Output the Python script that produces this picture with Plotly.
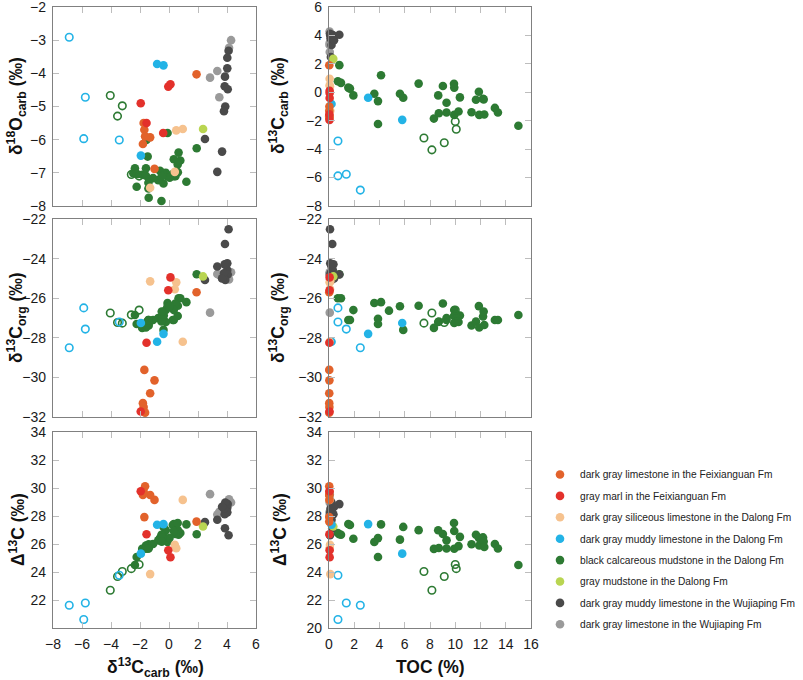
import numpy as np
import plotly.graph_objects as go
from plotly.subplots import make_subplots

# ---------------- data ----------------
# dark gray limestone in the Feixianguan Fm
fxl_carb = [1.9, -1.7, -1.0, -1.3, -1.8, -1.75, -1.65]
fxl_o18 = [-4.03, -5.7, -6.88, -5.93, -6.13, -5.5, -5.9]
fxl_org = [-25.7, -29.62, -30.15, -30.8, -31.3, -31.5, -31.78]
fxl_toc = [0.02, 0.02, 0.03, 0.02, 0.02, 0.03, 0.02]

# gray marl in the Feixianguan Fm
fxm_carb = [0.1, -0.05, -1.55, -1.95, -0.4]
fxm_o18 = [-4.33, -4.4, -5.5, -4.9, -5.8]
fxm_org = [-24.95, -25.6, -28.25, -31.72, None]
fxm_toc = [0.05, 0.05, 0.03, 0.04, 0.05]

# dark gray siliceous limestone in the Dalong Fm
dls_carb = [-1.3, 0.5, 0.95, 0.4]
dls_o18 = [-7.45, -5.72, -5.68, -6.97]
dls_org = [-25.15, -25.2, -28.2, -25.55]
dls_toc = [0.1, 0.05, 0.05, 0.08]

# dark gray muddy limestone in the Dalong Fm (filled)
dlm_carb = [-1.94, -0.82, -0.38]
dlm_o18 = [-6.48, -3.72, -3.76]
dlm_org = [-27.25, -28.2, -27.8]
dlm_toc = [5.8, 0.2, 3.1]

# dark gray muddy limestone in the Dalong Fm (open symbols)
dlmo_carb = [-6.88, -5.77, -5.88, -3.43]
dlmo_o18 = [-2.91, -4.72, -5.97, -6.01]
dlmo_org = [-28.5, -27.56, -26.49, -27.2]
dlmo_toc = [2.48, 1.37, 0.71, 0.71]

# black calcareous mudstone in the Dalong Fm (filled)
bcm_toc = [0.82, 0.70, 0.95, 1.53, 1.66, 1.93, 4.12, 3.59, 3.88, 3.88, 5.62, 5.88,
           7.10, 8.31, 8.65, 8.70, 9.02, 9.31, 9.31, 9.90, 9.92, 9.92, 10.26, 10.37,
           11.29, 11.64, 11.87, 11.90, 12.20, 12.25, 12.30, 13.14, 13.38, 15.00,
           None, None, 4.75]
bcm_carb = [1.91, 0.78, 0.66, 0.33, 0.26, -0.22, 1.2, -0.1, -0.62, -2.23, -0.1, -0.38,
            0.61, -1.85, -0.22, -1.47, 0.44, -0.74, -1.42, 0.6, 0.33, -1.59, -1.35, -0.36,
            -1.4, -0.52, 0.04, -1.59, -0.45, -0.5, -1.56, -1.1, -1.42, -2.35,
            -2.46, -2.2, None]
bcm_org = [-24.79, -26.0, -26.0, -27.1, -27.1, -26.6, -26.2, -26.24, -27.04, -27.3, -26.41, -27.6,
           -26.38, -27.5, -27.2, -27.18, -26.27, -27.0, -27.1, -26.9, -26.6, -27.25, -27.2, -26.87,
           -27.38, -27.18, -26.4, -27.48, -26.92, -26.67, -27.35, -27.1, -27.1, -26.85,
           None, None, -26.63]
bcm_o18 = [-6.26, -6.63, -6.39, -6.59, -7.04, -7.06, -7.27, -5.8, -6.94, -7.42, -7.1, -7.32,
           -6.98, -7.06, -7.0, -6.51, -7.1, -7.22, -7.47, -6.75, -7.1, -7.09, -7.2, -7.04,
           -7.75, -7.85, -7.15, -6.86, -7.0, -7.1, -6.01, -7.16, -7.3, -6.86,
           -7.01, -7.04, None]

# black calcareous mudstone in the Dalong Fm (open symbols)
bcmo_toc = [7.52, 8.15, 9.13, 10.0, 10.08]
bcmo_carb = [-3.22, -4.05, -3.55, -2.06, -2.6]
bcmo_org = [-27.26, -26.75, -27.23, -26.6, -26.84]
bcmo_o18 = [-4.98, -4.67, -5.29, -7.1, -7.05]

# gray mudstone in the Dalong Fm
gmd_carb = [2.35]
gmd_o18 = [-5.68]
gmd_org = [-24.9]
gmd_toc = [0.34]

# dark gray muddy limestone in the Wujiaping Fm
wjm_carb = [4.11, 3.86, 3.33, 2.48, 4.02, 4.02, 3.84, 4.05, 3.88, 3.79, 3.66]
wjm_o18 = [-3.32, -4.1, -6.97, -5.98, -3.53, -3.85, -4.39, -4.48, -5.0, -5.14, -6.36]
wjm_org = [-22.52, -23.26, -24.4, -25.08, -24.58, -24.24, -24.29, -24.8, -25.08, -24.74, -25.0]
wjm_toc = [0.08, 0.26, 0.2, 0.15, 0.3, 0.1, 0.35, 0.82, 0.2, 0.12, 0.4]

# dark gray limestone in the Wujiaping Fm
wjl_carb = [4.28, 4.14, 3.33, 2.83, 3.47]
wjl_o18 = [-3.0, -3.23, -3.93, -4.13, -4.72]
wjl_org = [-24.69, -25.05, -24.78, -26.73, -24.83]
wjl_toc = [0.05, 0.08, 0.04, 0.06, 0.05]

# ---------------- figure ----------------
W, H = 803, 680
ML, MR, MT, MB = 53, 272, 7, 52
PW, PH = W - ML - MR, H - MT - MB


def px_x(p):
    return (p - ML) / PW


def px_y(p):
    return (H - MB - p) / PH


FONT = "Liberation Sans, Arial, Helvetica, sans-serif"

fig = make_subplots(rows=3, cols=2)

# drawing order (first = bottom); legend order is set with legendrank
groups = [
    # name, color, carb, o18, org, toc, open, legend rank
    ("dark gray limestone in the Wujiaping Fm", "#9A9A9A", wjl_carb, wjl_o18, wjl_org, wjl_toc, False, 8),
    ("black calcareous mudstone in the Dalong Fm", "#2D7A33", bcm_carb, bcm_o18, bcm_org, bcm_toc, False, 5),
    ("black calcareous mudstone in the Dalong Fm", "#2D7A33", bcmo_carb, bcmo_o18, bcmo_org, bcmo_toc, True, 5),
    ("dark gray muddy limestone in the Dalong Fm", "#23B3E6", dlmo_carb, dlmo_o18, dlmo_org, dlmo_toc, True, 4),
    ("dark gray muddy limestone in the Wujiaping Fm", "#4A4A4A", wjm_carb, wjm_o18, wjm_org, wjm_toc, False, 7),
    ("gray mudstone in the Dalong Fm", "#B9D551", gmd_carb, gmd_o18, gmd_org, gmd_toc, False, 6),
    ("dark gray muddy limestone in the Dalong Fm", "#23B3E6", dlm_carb, dlm_o18, dlm_org, dlm_toc, False, 4),
    ("dark gray siliceous limestone in the Dalong Fm", "#F6C28E", dls_carb, dls_o18, dls_org, dls_toc, False, 3),
    ("dark gray limestone in the Feixianguan Fm", "#E2622B", fxl_carb, fxl_o18, fxl_org, fxl_toc, False, 1),
    ("gray marl in the Feixianguan Fm", "#E3312B", fxm_carb, fxm_o18, fxm_org, fxm_toc, False, 2),
]

for name, color, carb, o18, org, toc, is_open, rank in groups:
    carb_a = np.array(carb, dtype=float)
    o18_a = np.array(o18, dtype=float)
    org_a = np.array(org, dtype=float)
    toc_a = np.array(toc, dtype=float)
    delta_a = carb_a - org_a
    panels = [
        (1, 1, carb_a, o18_a), (1, 2, toc_a, carb_a),
        (2, 1, carb_a, org_a), (2, 2, toc_a, org_a),
        (3, 1, carb_a, delta_a), (3, 2, toc_a, delta_a),
    ]
    for k, (r, c, xv, yv) in enumerate(panels):
        if is_open:
            marker = dict(size=7.5, color="rgba(255,255,255,0)",
                          line=dict(color=color, width=1.6), symbol="circle")
        else:
            marker = dict(size=8.6, color=color, line=dict(width=0), symbol="circle")
        fig.add_trace(go.Scatter(
            x=xv, y=yv, mode="markers", marker=marker, name=name,
            legendgroup=f"g{rank}", legendrank=rank,
            showlegend=(k == 0 and not is_open), cliponaxis=False,
            hoverinfo="skip"), row=r, col=c)

# axes
col_dom = {1: [0, px_x(256)], 2: [px_x(329), 1.0]}
row_dom = {1: [px_y(206), 1.0], 2: [px_y(417), px_y(219)], 3: [0, px_y(432)]}
xranges = {1: [-8, 6], 2: [0, 16]}
yranges = {(1, 1): [-8, -2], (1, 2): [-8, 6], (2, 1): [-32, -22], (2, 2): [-32, -22],
           (3, 1): [20, 34], (3, 2): [20, 34]}
ytickvals = {(1, 1): list(range(-8, -1)), (1, 2): list(range(-8, 7, 2)),
             (2, 1): list(range(-32, -21, 2)), (2, 2): list(range(-32, -21, 2)),
             (3, 1): list(range(22, 35, 2)), (3, 2): list(range(20, 35, 2))}
xtickvals = {1: list(range(-8, 7, 2)), 2: list(range(0, 17, 2))}

common = dict(showline=True, linecolor="#808080", linewidth=1.3, mirror="ticks",
              ticks="inside", ticklen=6, tickwidth=1, tickcolor="#BDBDBD",
              showgrid=False, zeroline=False, ticklabeloverflow="allow",
              tickfont=dict(family=FONT, size=14, color="#1a1a1a"))

for r in (1, 2, 3):
    for c in (1, 2):
        fig.update_xaxes(domain=col_dom[c], range=xranges[c], tickmode="array",
                         tickvals=xtickvals[c], showticklabels=(r == 3),
                         ticklabelstandoff=3, row=r, col=c, **common)
        fig.update_yaxes(domain=row_dom[r], range=yranges[(r, c)], tickmode="array",
                         tickvals=ytickvals[(r, c)], ticklabelstandoff=3,
                         row=r, col=c, **common)

# axis titles
tfont = dict(family=FONT, size=17.5, color="#111111")
ytitles = [
    ("δ<sup>18</sup>O<sub>carb</sub> (‰)", 16, 106),
    ("δ<sup>13</sup>C<sub>carb</sub> (‰)", 278, 106),
    ("δ<sup>13</sup>C<sub>org</sub> (‰)", 16, 318),
    ("δ<sup>13</sup>C<sub>org</sub> (‰)", 278, 318),
    ("Δ<sup>13</sup>C (‰)", 17, 530),
    ("Δ<sup>13</sup>C (‰)", 279, 530),
]
for txt, xp, yp in ytitles:
    fig.add_annotation(text=f"<b>{txt}</b>", x=px_x(xp), y=px_y(yp), xref="paper", yref="paper",
                       textangle=-90, showarrow=False, xanchor="center", yanchor="middle", font=tfont)
for txt, xp, yp in [("δ<sup>13</sup>C<sub>carb</sub> (‰)", 155, 667), ("TOC (%)", 430, 667)]:
    fig.add_annotation(text=f"<b>{txt}</b>", x=px_x(xp), y=px_y(yp), xref="paper", yref="paper",
                       showarrow=False, xanchor="center", yanchor="middle", font=tfont)

fig.update_layout(
    width=W, height=H,
    margin=dict(l=ML, r=MR, t=MT, b=MB, autoexpand=False),
    paper_bgcolor="white", plot_bgcolor="white",
    showlegend=True,
    legend=dict(xref="container", yref="container",
                x=540 / W, y=1 - 460 / H, xanchor="left", yanchor="top",
                traceorder="grouped", tracegroupgap=2.4,
                font=dict(family=FONT, size=10.2, color="#222222"),
                bgcolor="rgba(0,0,0,0)", borderwidth=0),
)

fig.write_html("out.html", config={"displayModeBar": False},
               post_script="document.body.style.margin='0px';")
